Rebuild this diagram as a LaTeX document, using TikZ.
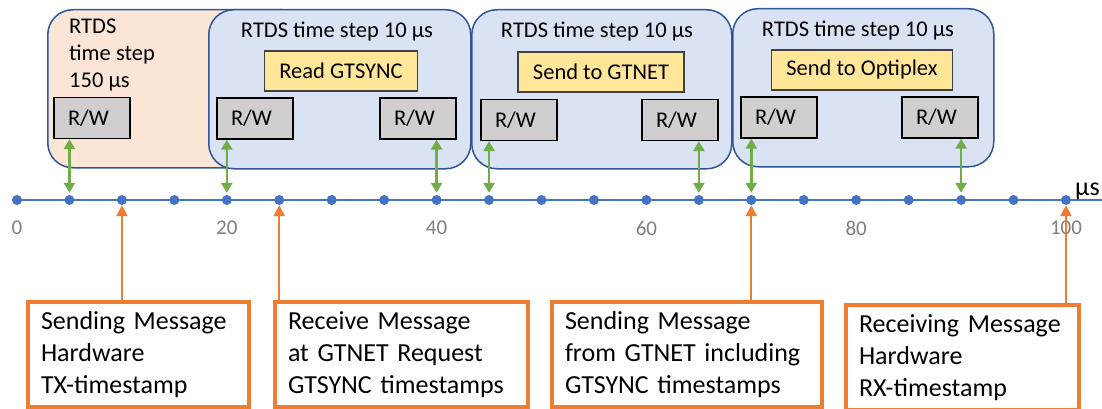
\documentclass[tikz,border=0pt]{standalone}
\usepackage{fontspec}
\setmainfont{Carlito}
\usepackage{xcolor}
\definecolor{stepblue}{HTML}{DAE3F3}
\definecolor{stepedge}{HTML}{2F5597}
\definecolor{peach}{HTML}{FBE5D6}
\definecolor{taskyellow}{HTML}{FFE699}
\definecolor{rwgray}{HTML}{D0CECE}
\definecolor{dotblue}{HTML}{4472C4}
\definecolor{stamporange}{HTML}{ED7D31}
\definecolor{linkgreen}{HTML}{70AD47}
\definecolor{ticklabel}{HTML}{7F7F7F}
\usetikzlibrary{arrows.meta}
\tikzset{
  stepbox/.style={draw=stepedge, line width=1.5pt, rounded corners=25pt, fill=stepblue, anchor=north west, inner sep=0pt},
  steptitle/.style={inner sep=0pt, font=\fontsize{22.5}{27}\selectfont},
  task/.style={draw=black!75, line width=1.3pt, fill=taskyellow, minimum height=40pt, inner xsep=15pt, font=\fontsize{22.5}{27}\selectfont},
  rw/.style={draw=black, line width=1.3pt, fill=rwgray, minimum height=41pt, text width=48pt, inner xsep=14pt, align=left, font=\fontsize{22.5}{27}\selectfont},
  dot/.style={circle, fill=dotblue, inner sep=0pt, minimum size=10pt},
  axislabel/.style={text=ticklabel, inner sep=0pt, font=\fontsize{21}{25}\selectfont},
  stamp/.style={draw=stamporange, line width=4pt, fill=white, anchor=north west, minimum height=105pt, inner xsep=13pt, align=left, font=\fontsize{26}{32}\selectfont},
  link/.style={{Triangle[length=10pt,width=11pt]}-{Triangle[length=10pt,width=11pt]}, draw=linkgreen, line width=2.5pt},
  stampline/.style={-{Triangle[length=11pt,width=11pt]}, draw=stamporange, line width=2pt}
}

\begin{document}
\begin{tikzpicture}[x=1pt,y=-1pt]
\useasboundingbox (0,0) rectangle (1102,409);

\node[stepbox, fill=peach, minimum width=260pt, minimum height=158pt] (slow) at (47,9) {};
\node[stepbox, minimum width=262pt, minimum height=159pt] (ts1) at (208,9) {};
\node[stepbox, minimum width=260pt, minimum height=159pt] (ts2) at (471,9) {};
\node[stepbox, minimum width=261pt, minimum height=158pt] (ts3) at (732,8) {};

\node[steptitle, anchor=west, align=left] (slowtitle) at (69,55.5) {RTDS\\time step\\150 µs};
\node[steptitle] (title1) at (337,32) {RTDS time step 10 µs};
\node[steptitle] (title2) at (597,32) {RTDS time step 10 µs};
\node[steptitle] (title3) at (858,31) {RTDS time step 10 µs};

\node[task] (read) at (341,71) {Read GTSYNC};
\node[task] (send) at (601,72) {Send to GTNET};
\node[task] (opti) at (862,70) {Send to Optiplex};

\node[rw] (rwa) at (92,118) {R/W};
\node[rw] (rwb) at (255,118.5) {R/W};
\node[rw] (rwc) at (418,118.5) {R/W};
\node[rw] (rwd) at (519,120) {R/W};
\node[rw] (rwe) at (680,120) {R/W};
\node[rw] (rwf) at (779,117.5) {R/W};
\node[rw] (rwg) at (940,117.5) {R/W};

\coordinate (axisstart) at (17,200);
\coordinate (axisend) at (1102,200);
\draw[dotblue, line width=1.5pt] (axisstart) -- (axisend);
\foreach \i in {0,...,20}
  \node[dot] (d\i) at ({17+52.45*\i},200) {};
\foreach \v in {0,20,40,60,80,100}
  \node[axislabel] (l\v) at ({17+10.49*\v},228) {\v};
\node[inner sep=0pt, anchor=base west, font=\fontsize{26}{30}\selectfont] (unit) at (1075,195) {µs};

\draw[link] (rwa.south -| d1) -- ([yshift=2pt]d1.north);
\draw[link] (rwb.south -| d4) -- ([yshift=2pt]d4.north);
\draw[link] (rwc.south -| d8) -- ([yshift=2pt]d8.north);
\draw[link] (rwd.south -| d9) -- ([yshift=2pt]d9.north);
\draw[link] (rwe.south -| d13) -- ([yshift=2pt]d13.north);
\draw[link] (rwf.south -| d14) -- ([yshift=2pt]d14.north);
\draw[link] (rwg.south -| d18) -- ([yshift=2pt]d18.north);

\node[stamp, text width=195pt] (sa) at (26,300) {Sending Message\\Hardware\\TX-timestamp};
\node[stamp, text width=227pt] (sb) at (273,300) {Receive Message\\at GTNET Request\\GTSYNC timestamps};
\node[stamp, text width=244pt] (sc) at (550,300) {Sending Message\\from GTNET including\\GTSYNC timestamps};
\node[stamp, text width=207pt] (sd) at (844,303) {Receiving Message\\Hardware\\RX-timestamp};

\draw[stampline] (sa.north -| d2) -- (d2.south);
\draw[stampline] (sb.north -| d5) -- (d5.south);
\draw[stampline] (sc.north -| d14) -- (d14.south);
\draw[stampline] (sd.north -| d20) -- (d20.south);
\end{tikzpicture}
\end{document}
